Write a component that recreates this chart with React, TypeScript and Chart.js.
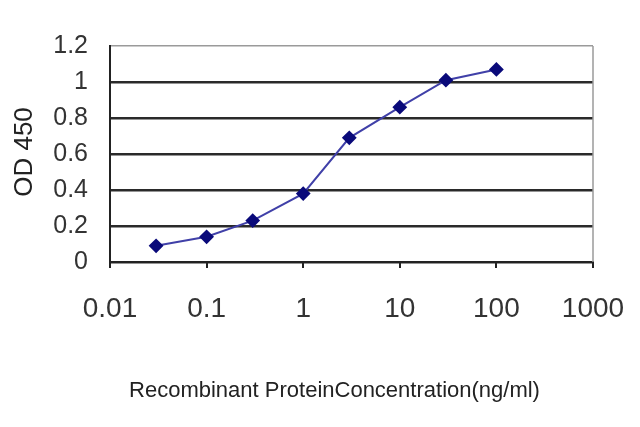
import React, { useEffect, useRef } from "react";
import { Chart, registerables } from "chart.js";

Chart.register(...registerables);

const concentrations = [0.03, 0.1, 0.3, 1, 3, 10, 30, 100];
const od450 = [0.09, 0.14, 0.23, 0.38, 0.69, 0.86, 1.01, 1.07];
const xTickValues = [0.01, 0.1, 1, 10, 100, 1000];
const xTickLabels = ["0.01", "0.1", "1", "10", "100", "1000"];
const yTickLabels = ["0", "0.2", "0.4", "0.6", "0.8", "1", "1.2"];
const xTitle = "Recombinant ProteinConcentration(ng/ml)";
const yTitle = "OD 450";

const FONT = "'Liberation Sans', Arial, sans-serif";

export default function App() {
  const ref = useRef<HTMLCanvasElement | null>(null);

  useEffect(() => {
    document.body.style.margin = "0";
    const canvas = ref.current;
    if (!canvas) return;

    const titlePlugin = {
      id: "titles",
      afterDraw(chart: any) {
        const { ctx, chartArea } = chart;
        ctx.save();
        // right border of plot area
        ctx.strokeStyle = "#9a9a9a";
        ctx.lineWidth = 1.5;
        ctx.beginPath();
        ctx.moveTo(chartArea.right, chartArea.top);
        ctx.lineTo(chartArea.right, chartArea.bottom);
        ctx.stroke();
        // x title
        ctx.fillStyle = "#222";
        ctx.font = `22px ${FONT}`;
        ctx.textAlign = "center";
        ctx.textBaseline = "middle";
        const cx = (chartArea.left + chartArea.right) / 2 - 17;
        ctx.fillText(xTitle, cx, chartArea.bottom + 129);
        // y title
        ctx.font = `26px ${FONT}`;
        ctx.translate(25, (chartArea.top + chartArea.bottom) / 2 - 2);
        ctx.rotate(-Math.PI / 2);
        ctx.fillText(yTitle, 0, 0);
        ctx.restore();
      },
    };

    const chart = new Chart(canvas, {
      type: "line",
      data: {
        datasets: [
          {
            data: concentrations.map((c, i) => ({ x: c, y: od450[i] })),
            borderColor: "#4040a8",
            borderWidth: 2,
            backgroundColor: "#0a0a7a",
            pointBackgroundColor: "#0a0a7a",
            pointBorderColor: "#0a0a7a",
            pointStyle: "rectRot",
            pointRadius: 6,
            tension: 0,
          },
        ],
      },
      options: {
        animation: false,
        responsive: false,
        devicePixelRatio: 1,
        layout: { padding: { left: 0, right: 47, top: 46, bottom: 0 } },
        plugins: {
          legend: { display: false },
          tooltip: { enabled: false },
        },
        scales: {
          x: {
            type: "logarithmic",
            min: 0.01,
            max: 1000,
            afterBuildTicks: (scale: any) => {
              scale.ticks = xTickValues.map((v) => ({ value: v, major: true }));
            },
            afterFit: (scale: any) => {
              scale.height = 165;
              scale.paddingLeft = 0;
              scale.paddingRight = 0;
            },
            ticks: {
              autoSkip: false,
              maxRotation: 0,
              padding: 24,
              color: "#333",
              font: { family: FONT, size: 28 },
              callback: (value: any) => {
                const i = xTickValues.indexOf(Number(value));
                return i >= 0 ? xTickLabels[i] : "";
              },
            },
            grid: {
              drawOnChartArea: false,
              drawTicks: true,
              tickLength: 6,
              color: "#222",
              lineWidth: 2,
            },
            border: { display: true, color: "#222", width: 2 },
          },
          y: {
            min: 0,
            max: 1.2,
            afterBuildTicks: (scale: any) => {
              scale.ticks = yTickLabels.map((l) => ({ value: Number(l) }));
            },
            afterFit: (scale: any) => {
              scale.width = 110;
            },
            ticks: {
              padding: 22,
              color: "#333",
              font: { family: FONT, size: 25 },
              callback: (value: any) => {
                const i = yTickLabels.findIndex((l) => Math.abs(Number(l) - Number(value)) < 1e-9);
                return i >= 0 ? yTickLabels[i] : "";
              },
            },
            grid: {
              drawTicks: false,
              color: (c: any) => (c.tick && c.tick.value >= 1.2 ? "#9a9a9a" : "#2a2a2a"),
              lineWidth: (c: any) => (c.tick && c.tick.value >= 1.2 ? 1.5 : 2.5),
            },
            border: { display: true, color: "#222", width: 2 },
          },
        },
      },
      plugins: [titlePlugin],
    });

    return () => chart.destroy();
  }, []);

  return (
    <div style={{ position: "fixed", left: 0, top: 0, width: 640, height: 427, background: "#fff" }}>
      <canvas ref={ref} width={640} height={427} />
    </div>
  );
}
